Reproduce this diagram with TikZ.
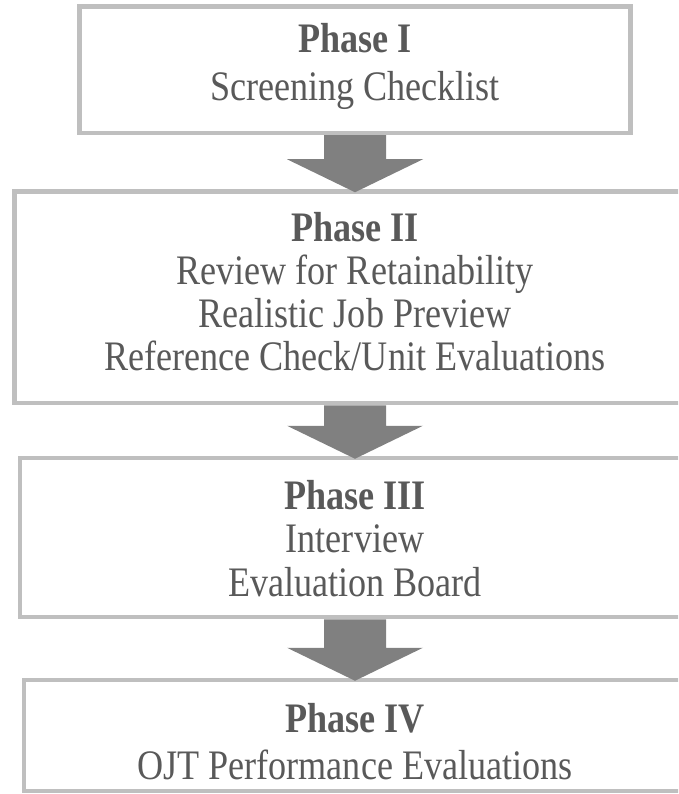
\documentclass[tikz,border=0pt]{standalone}
\usepackage{fontspec}
\setmainfont{Liberation Serif}[FakeStretch=0.86]
\usetikzlibrary{calc}
\definecolor{boxline}{HTML}{BFBFBF}
\definecolor{arrowgray}{HTML}{808080}
\definecolor{txtgray}{HTML}{595959}
\tikzset{
  phasebox/.style={draw=boxline, line width=4.5pt, fill=white, inner sep=0pt},
  phasetext/.style={align=center, text=txtgray, inner sep=0pt},
  bigarrow/.style={fill=arrowgray, draw=none}
}
\begin{document}
\begin{tikzpicture}[x=1pt,y=-1pt]
\useasboundingbox (0,0) rectangle (678,794);
\begin{scope}
\clip (0,0) rectangle (678,794);
\node[phasebox, minimum width=550.6pt, minimum height=126.5pt] (p1) at (355,69.75) {};
\node[phasebox, minimum width=681pt, minimum height=211.5pt] (p2) at (355,297.25) {};
\node[phasebox, minimum width=670pt, minimum height=159pt] (p3) at (355,537.5) {};
\node[phasebox, minimum width=662pt, minimum height=111pt] (p4) at (355,735.5) {};
\node[phasetext, font=\fontsize{42}{48}\selectfont] (t1) at ($(p1.center)+(0,-3)$)
  {\textbf{Phase I}\\Screening Checklist};
\node[phasetext, font=\fontsize{42}{43}\selectfont] (t2) at ($(p2.center)+(0,-6)$)
  {\textbf{Phase II}\\Review for Retainability\\Realistic Job Preview\\Reference Check/Unit Evaluations};
\node[phasetext, font=\fontsize{42}{43.5}\selectfont] (t3) at ($(p3.center)+(0,1)$)
  {\textbf{Phase III}\\Interview\\Evaluation Board};
\node[phasetext, font=\fontsize{42}{47}\selectfont] (t4) at ($(p4.center)+(0,6)$)
  {\textbf{Phase IV}\\OJT Performance Evaluations};
\foreach \a/\b in {p1/p2, p2/p3, p3/p4}{
  \coordinate (s) at (\a.south);
  \coordinate (e) at ($(\b.north)+(0,3)$);
  \fill[bigarrow] ($(s)+(-31,0)$) -- ($(s)+(31,0)$) -- ($(e)+(31,-33)$)
    -- ($(e)+(68,-33)$) -- (e) -- ($(e)+(-68,-33)$) -- ($(e)+(-31,-33)$) -- cycle;
}
\end{scope}
\end{tikzpicture}
\end{document}
